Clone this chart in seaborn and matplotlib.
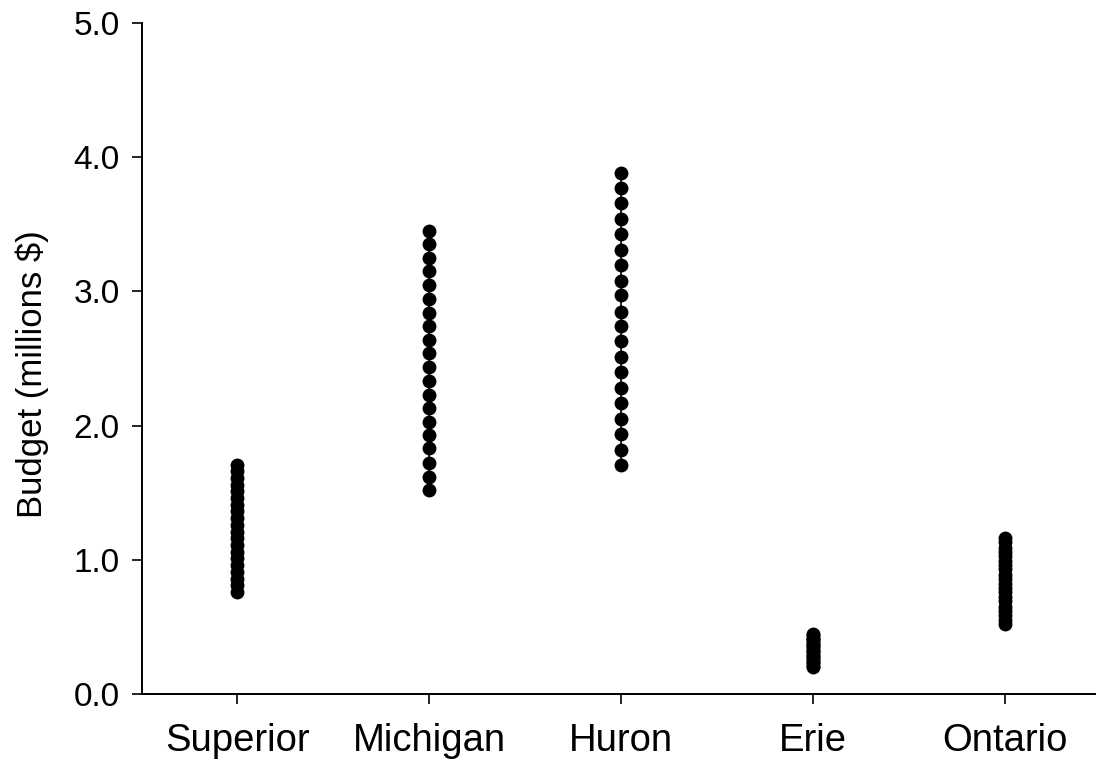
import pandas as pd
import matplotlib.pyplot as plt
import seaborn as sns

lakes = ['Superior', 'Michigan', 'Huron', 'Erie', 'Ontario']

superior = [0.76, 0.81, 0.86, 0.91, 0.96, 1.01, 1.06, 1.11, 1.16, 1.21,
            1.26, 1.31, 1.36, 1.41, 1.46, 1.51, 1.56, 1.61, 1.66, 1.71]
michigan = [1.52, 1.62, 1.72, 1.83, 1.93, 2.03, 2.13, 2.23, 2.33, 2.44,
            2.54, 2.64, 2.74, 2.84, 2.94, 3.05, 3.15, 3.25, 3.35, 3.45]
huron = [1.71, 1.82, 1.94, 2.05, 2.17, 2.28, 2.40, 2.51, 2.63, 2.74,
         2.85, 2.97, 3.08, 3.20, 3.31, 3.43, 3.54, 3.66, 3.77, 3.88]
erie = [0.20, 0.21, 0.23, 0.24, 0.25, 0.27, 0.28, 0.29, 0.31, 0.32,
        0.33, 0.35, 0.36, 0.37, 0.38, 0.40, 0.41, 0.42, 0.44, 0.45]
ontario = [0.52, 0.55, 0.59, 0.62, 0.65, 0.69, 0.72, 0.76, 0.79, 0.82,
           0.86, 0.89, 0.93, 0.96, 0.99, 1.03, 1.06, 1.09, 1.13, 1.16]

y_ticks = [0.0, 1.0, 2.0, 3.0, 4.0, 5.0]

df = pd.DataFrame({
    'lake': [l for l, vals in zip(lakes, [superior, michigan, huron, erie, ontario]) for _ in vals],
    'budget': superior + michigan + huron + erie + ontario,
})

sns.set_theme(style='ticks')
plt.rcParams['font.family'] = ['Liberation Sans', 'DejaVu Sans']
plt.rcParams['text.color'] = 'black'
plt.rcParams['axes.labelcolor'] = 'black'
plt.rcParams['xtick.color'] = 'black'
plt.rcParams['ytick.color'] = 'black'

fig = plt.figure(figsize=(10.96, 7.68), dpi=100)
ax = fig.add_axes([0.1296, 0.0964, 0.8704, 0.8736])

# thin line joining the dots of each lake
sns.lineplot(data=df, x='lake', y='budget', units='lake', estimator=None,
             sort=False, color='black', linewidth=1.2, ax=ax)
sns.stripplot(data=df, x='lake', y='budget', order=lakes, jitter=False,
              color='black', size=10, linewidth=0, ax=ax)

ax.set_xlim(-0.495, 4.474)
ax.set_ylim(0, 5)
ax.set_yticks(y_ticks)
ax.set_yticklabels([f'{v:.1f}' for v in y_ticks])
ax.set_xlabel('')
ax.set_ylabel('Budget (millions $)', fontsize=25, labelpad=18)
ax.yaxis.label.set_y(0.477)

sns.despine(ax=ax)
for s in ['left', 'bottom']:
    ax.spines[s].set_linewidth(1.4)
    ax.spines[s].set_color('black')
ax.tick_params(axis='both', direction='out', length=7, width=1.2)
ax.tick_params(axis='x', labelsize=27.5, pad=14)
ax.tick_params(axis='y', labelsize=24, pad=9)

fig.savefig('out.png', dpi=100)
